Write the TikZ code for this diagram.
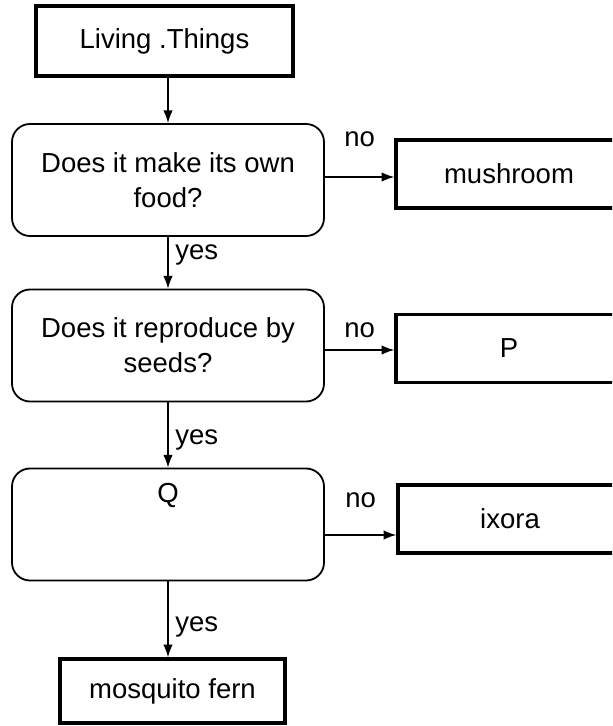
\documentclass[tikz,border=0pt]{standalone}
\usepackage{fontspec}
\setmainfont{Liberation Sans}
\usetikzlibrary{arrows.meta}

\begin{document}
\begin{tikzpicture}[x=0.5pt, y=-0.5pt, >=Latex,
  font=\fontsize{13.75}{17.5}\selectfont,
  caja/.style={draw, line width=1.7pt, minimum height=34pt, inner sep=0pt},
  pregunta/.style={draw, line width=0.9pt, rounded corners=9pt, minimum width=156pt, minimum height=56pt, align=center},
  flecha/.style={->, line width=0.75pt}]
\clip (0,0) rectangle (612,726);
% Cajas (las de la derecha se salen del borde)
\node[caja, minimum width=128.5pt, minimum height=35pt] (seres) at (164.5,41) {Living .Things};
\node[pregunta] (p1) at (168,180) {Does it make its own\\food?};
\node[caja, minimum width=113pt] (hongo) at (509,174) {mushroom};
\node[pregunta] (p2) at (168,345.5) {Does it reproduce by\\seeds?};
\node[caja, minimum width=113pt] (P) at (509,348.5) {P};
\node[pregunta, inner ysep=6.4pt, text depth=32pt] (p3) at (168,524.5) {Q};
\node[caja, minimum width=112pt] (ixora) at (510,519) {ixora};
\node[caja, minimum width=112.5pt, minimum height=32pt] (helecho) at (172.5,691) {mosquito fern};
% Flechas "yes" hacia abajo
\draw[flecha] (seres.south -| p1) -- (p1.north);
\draw[flecha] (p1) -- (p2) node[pos=0.34, right] {yes};
\draw[flecha] (p2) -- (p3) node[pos=0.57, right] {yes};
\draw[flecha] (p3.south) -- (p3.south |- helecho.north) node[pos=0.6, right] {yes};
% Flechas "no" hacia la derecha
\draw[flecha] ([yshift=1.5pt]p1.east) -- ([yshift=1.5pt]p1.east -| hongo.west) node[midway, yshift=19pt] {no};
\draw[flecha] ([yshift=-2.25pt]p2.east) -- ([yshift=-2.25pt]p2.east -| P.west) node[midway, yshift=10pt] {no};
\draw[flecha] ([yshift=-5.25pt]p3.east) -- ([yshift=-5.25pt]p3.east -| ixora.west) node[midway, yshift=17.5pt] {no};
\end{tikzpicture}
\end{document}
